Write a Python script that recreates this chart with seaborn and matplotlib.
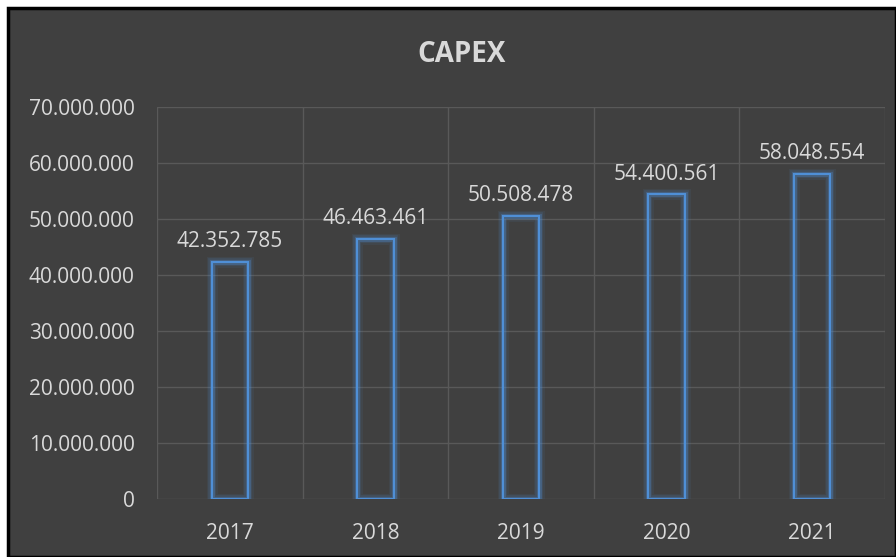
import matplotlib
matplotlib.use("Agg")
import matplotlib.pyplot as plt
import matplotlib.patheffects as pe
from matplotlib.patches import Rectangle
import seaborn as sns
import pandas as pd

# dane
years = ["2017", "2018", "2019", "2020", "2021"]
capex = [42352785, 46463461, 50508478, 54400561, 58048554]
y_ticks = [0, 10000000, 20000000, 30000000, 40000000, 50000000, 60000000, 70000000]

bg = "#404040"
txt = "#d9d9d9"
grid = "#595959"
blue = "#4f8fd6"

sns.set_theme(style="dark")
plt.rcParams["font.family"] = ["Open Sans", "DejaVu Sans"]

fig = plt.figure(figsize=(8.96, 5.57), dpi=100)
fig.patch.set_facecolor("white")
# ciemny panel z czarna ramka
fig.patches.append(Rectangle((8 / 896, 0), 888 / 896, 549 / 557, transform=fig.transFigure,
                             facecolor=bg, edgecolor="black", linewidth=2.5, zorder=-10))

ax = fig.add_axes([157 / 896, 58 / 557, 728 / 896, 392 / 557])
ax.set_facecolor("none")

df = pd.DataFrame({"Rok": years, "CAPEX": capex})
sns.barplot(data=df, x="Rok", y="CAPEX", fill=False, color=blue, width=0.25,
            linewidth=1.5, ax=ax, zorder=3)

# poswiata wokol slupkow
for p in ax.patches:
    p.set_edgecolor(blue)
    p.set_path_effects([
        pe.Stroke(linewidth=8, foreground=blue, alpha=0.08),
        pe.Stroke(linewidth=5.5, foreground=blue, alpha=0.15),
        pe.Stroke(linewidth=3.5, foreground=blue, alpha=0.3),
        pe.Normal(),
    ])

ax.bar_label(ax.containers[0], labels=[f"{v:,}".replace(",", ".") for v in capex],
             padding=7, color=txt, fontsize=15)

ax.set_ylim(0, 70000000)
ax.set_xlim(-0.5, 4.5)
ax.set_yticks(y_ticks)
ax.set_yticklabels([f"{v:,}".replace(",", ".") for v in y_ticks])
ax.set_xticks(range(len(years)), years)
ax.set_xticks([i - 0.5 for i in range(len(years) + 1)], minor=True)
ax.grid(True, axis="y", which="major", color=grid, linewidth=1, zorder=0)
ax.grid(True, axis="x", which="minor", color=grid, linewidth=1, zorder=0)
ax.grid(False, axis="x", which="major")
ax.tick_params(axis="y", length=0, pad=16, labelcolor=txt, labelsize=15)
ax.tick_params(axis="x", which="both", length=0, pad=17, labelcolor=txt, labelsize=15)
ax.set_xlabel("")
ax.set_ylabel("")
for s in ax.spines.values():
    s.set_visible(False)

fig.text(462 / 896, 1 - 55 / 557, "CAPEX", ha="center", va="center",
         color=txt, fontsize=20, fontweight="bold")

fig.savefig("out.png", dpi=100, facecolor=fig.get_facecolor())
